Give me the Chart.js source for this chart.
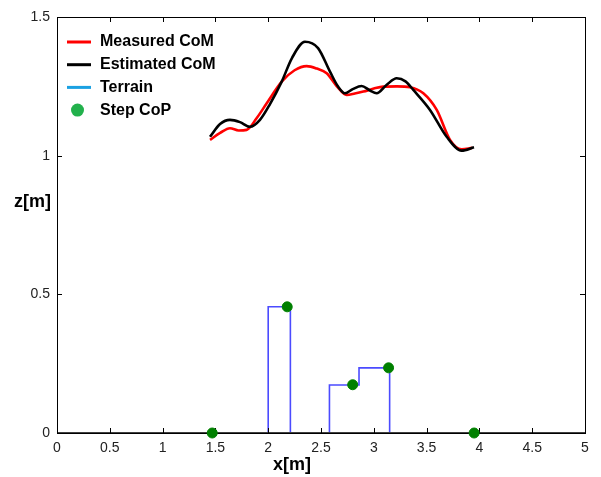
<!DOCTYPE html>
<html>
<head>
<meta charset="utf-8">
<script src="https://cdn.jsdelivr.net/npm/chart.js@4"></script>
<style>
html,body{margin:0;padding:0;background:#fff;}
#wrap{width:601px;height:477px;position:relative;}
</style>
</head>
<body>
<div id="wrap"><canvas id="c" width="601" height="477"></canvas></div>
<script>
// ---- data ----
const measuredX = [1.449,1.545,1.638,1.720,1.796,1.890,1.986,2.128,2.250,2.364,2.460,2.554,2.650,2.743,2.820,2.901,3.000,3.090,3.220,3.343,3.469,3.596,3.722,3.832,3.930];
const measuredZ = [1.057,1.082,1.099,1.091,1.093,1.135,1.189,1.267,1.308,1.323,1.314,1.297,1.250,1.219,1.224,1.231,1.242,1.249,1.250,1.247,1.225,1.165,1.057,1.023,1.028];
const estimatedX = [1.449,1.544,1.638,1.733,1.828,1.922,2.017,2.128,2.225,2.348,2.472,2.585,2.660,2.727,2.800,2.885,2.960,3.027,3.120,3.217,3.300,3.374,3.532,3.690,3.832,3.949];
const estimatedZ = [1.068,1.114,1.129,1.121,1.104,1.129,1.186,1.267,1.352,1.411,1.388,1.303,1.250,1.225,1.240,1.251,1.236,1.225,1.255,1.279,1.268,1.237,1.165,1.068,1.018,1.030];
const terrainX = [0,2.0,2.0,2.21,2.21,2.58,2.58,2.86,2.86,3.15,3.15,5];
const terrainZ = [0,0,0.455,0.455,0,0,0.173,0.173,0.235,0.235,0,0];
const copX = [1.47,2.18,2.80,3.14,3.95];
const copZ = [0,0.455,0.174,0.235,0];
const xTicks = [0,0.5,1,1.5,2,2.5,3,3.5,4,4.5,5];
const yTicks = [0,0.5,1,1.5];
const seriesLabels = ["Measured CoM","Estimated CoM","Terrain","Step CoP"];
const legendColors = ["#ff0000","#000000","#1ba1e2","#22b14c"];
const xTitle = "x[m]";
const yTitle = "z[m]";

const pts = (xs, zs) => xs.map((x,i)=>({x:x,y:zs[i]}));
const FONT = '"Liberation Sans", Arial, sans-serif';

const framePlugin = {
  id:'frame',
  afterDatasetDraw(chart, args){
    if (args.index !== 2) return;
    const {ctx, chartArea:a, scales} = chart;
    ctx.save();
    ctx.strokeStyle = '#000';
    ctx.lineWidth = 1;
    ctx.strokeRect(Math.round(a.left)+0.5, Math.round(a.top)+0.5, Math.round(a.right-a.left), Math.round(a.bottom-a.top));
    ctx.lineWidth = 1.6;
    ctx.beginPath(); ctx.moveTo(a.left, a.bottom); ctx.lineTo(a.right, a.bottom); ctx.stroke();
    ctx.lineWidth = 1;
    ctx.beginPath();
    xTicks.forEach(v=>{
      const px = Math.round(scales.x.getPixelForValue(v))+0.5;
      ctx.moveTo(px, a.bottom); ctx.lineTo(px, a.bottom-5);
      ctx.moveTo(px, a.top); ctx.lineTo(px, a.top+5);
    });
    yTicks.forEach(v=>{
      const py = Math.round(scales.y.getPixelForValue(v))+0.5;
      ctx.moveTo(a.left, py); ctx.lineTo(a.left+5, py);
      ctx.moveTo(a.right, py); ctx.lineTo(a.right-5, py);
    });
    ctx.stroke();
    ctx.restore();
  },
  afterDraw(chart){
    const {ctx} = chart;
    ctx.save();
    ctx.fillStyle = '#000';
    ctx.font = 'bold 18px ' + FONT;
    ctx.textBaseline = 'middle';
    ctx.textAlign = 'center';
    ctx.fillText(xTitle, 292, 465);
    ctx.textAlign = 'left';
    ctx.fillText(yTitle, 14, 202);
    // legend
    ctx.font = 'bold 16px ' + FONT;
    const y0 = 42, dy = 22.7;
    seriesLabels.forEach((lab,i)=>{
      const y = y0 + i*dy;
      ctx.fillStyle = '#000';
      ctx.fillText(lab, 100, y);
      if (i < 3) {
        ctx.strokeStyle = legendColors[i];
        ctx.lineWidth = 3;
        ctx.beginPath(); ctx.moveTo(67, y); ctx.lineTo(91, y); ctx.stroke();
      } else {
        ctx.fillStyle = legendColors[i];
        ctx.beginPath(); ctx.arc(77.5, y, 6.5, 0, Math.PI*2); ctx.fill();
      }
    });
    ctx.restore();
  }
};

new Chart(document.getElementById('c'), {
  type:'scatter',
  data:{datasets:[
    {label:seriesLabels[0], data:pts(measuredX,measuredZ), showLine:true, borderColor:'#ff0000', borderWidth:2.6, pointRadius:0, tension:0.4, cubicInterpolationMode:'monotone', order:1, clip:false},
    {label:seriesLabels[1], data:pts(estimatedX,estimatedZ), showLine:true, borderColor:'#000000', borderWidth:2.6, pointRadius:0, tension:0.4, cubicInterpolationMode:'monotone', order:0, clip:false},
    {label:seriesLabels[2], data:pts(terrainX,terrainZ), showLine:true, borderColor:'#4b4bff', borderWidth:1.6, pointRadius:0, tension:0, order:3, clip:{left:0,top:0,right:0,bottom:-1}},
    {label:seriesLabels[3], data:pts(copX,copZ), showLine:false, backgroundColor:'#008000', borderColor:'#008000', pointRadius:5, pointHoverRadius:5, order:-1, clip:false}
  ]},
  options:{
    responsive:false, animation:false,
    layout:{padding:{top:17,right:16,left:0,bottom:0}},
    plugins:{legend:{display:false}, tooltip:{enabled:false}},
    events:[],
    scales:{
      x:{type:'linear', min:0, max:5,
        afterBuildTicks:s=>{s.ticks = xTicks.map(v=>({value:v}));},
        afterFit:s=>{s.height = 44;},
        grid:{display:false, drawTicks:false}, border:{display:false},
        ticks:{padding:7, color:'#222', callback:v=>String(v), font:{family:FONT, size:14}, maxRotation:0, autoSkip:false}},
      y:{type:'linear', min:0, max:1.5,
        afterBuildTicks:s=>{s.ticks = yTicks.map(v=>({value:v}));},
        afterFit:s=>{s.width = 57;},
        grid:{display:false, drawTicks:false}, border:{display:false},
        ticks:{padding:7, color:'#222', callback:v=>String(v), font:{family:FONT, size:14}}}
    }
  },
  plugins:[framePlugin]
});
</script>
</body>
</html>
